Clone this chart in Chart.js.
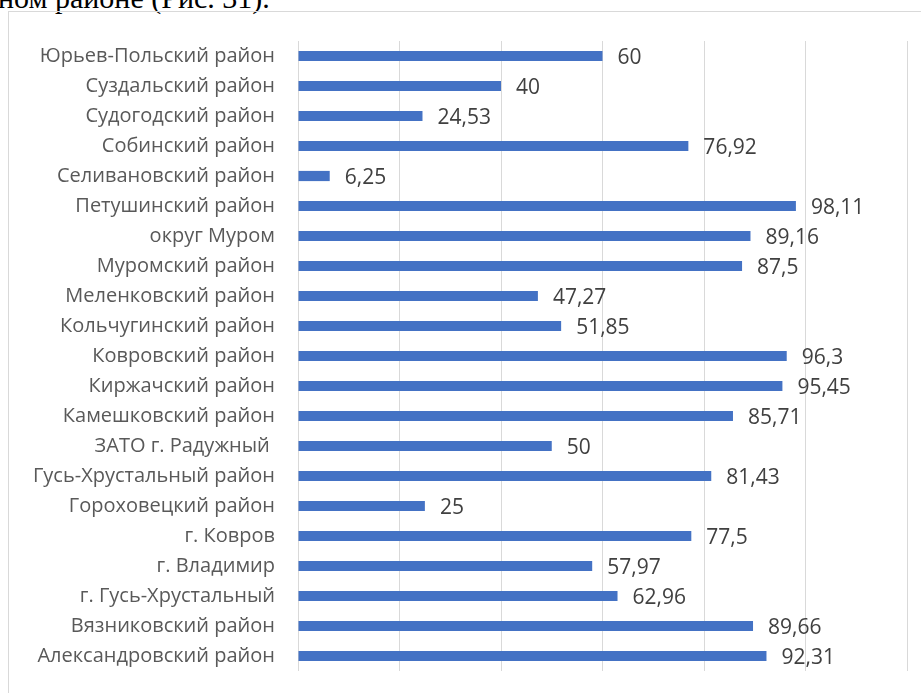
<!DOCTYPE html>
<html>
<head>
<meta charset="utf-8">
<script src="https://cdn.jsdelivr.net/npm/chart.js@4"></script>
<style>
  html, body { margin: 0; padding: 0; background: #fff; overflow: hidden; }
  #page { position: relative; width: 921px; height: 693px; }
  #caption {
    position: absolute; left: -2px; top: -17px;
    font-family: "Liberation Serif", "DejaVu Serif", serif;
    font-size: 30px; line-height: 30px; color: #000; white-space: nowrap;
  }
  #frame {
    position: absolute; left: 8px; top: 11px; width: 940px; height: 720px;
    border: 1px solid #d9d9d9; box-sizing: border-box;
  }
  #chart { position: absolute; left: 0; top: 0; }
</style>
</head>
<body>
<div id="page">
  <div id="caption">ном районе (Рис. 31).</div>
  <div id="frame"></div>
  <canvas id="chart" width="921" height="693"></canvas>
</div>
<script>
// районы, сверху вниз
var districts = [
  'Юрьев-Польский район',
  'Суздальский район',
  'Судогодский район',
  'Собинский район',
  'Селивановский район',
  'Петушинский район',
  'округ Муром',
  'Муромский район',
  'Меленковский район',
  'Кольчугинский район',
  'Ковровский район',
  'Киржачский район',
  'Камешковский район',
  'ЗАТО г. Радужный ',
  'Гусь-Хрустальный район',
  'Гороховецкий район',
  'г. Ковров',
  'г. Владимир',
  'г. Гусь-Хрустальный',
  'Вязниковский район',
  'Александровский район'
];

var values = [60, 40, 24.53, 76.92, 6.25, 98.11, 89.16, 87.5, 47.27, 51.85,
  96.3, 95.45, 85.71, 50, 81.43, 25, 77.5, 57.97, 62.96, 89.66, 92.31];

var xTicks = [0, 20, 40, 60, 80, 100, 120];

var FONT = '"Open Sans", "Noto Sans", sans-serif';

// подписи значений справа от полос
var valueLabels = {
  id: 'valueLabels',
  afterDatasetsDraw: function(chart) {
    var ctx = chart.ctx;
    var meta = chart.getDatasetMeta(0);
    ctx.save();
    ctx.font = '21px ' + FONT;
    ctx.fillStyle = '#404040';
    ctx.textAlign = 'left';
    ctx.textBaseline = 'middle';
    meta.data.forEach(function(bar, i) {
      var txt = String(values[i]).replace('.', ',');
      ctx.fillText(txt, bar.x + 15, bar.y + 2);
    });
    ctx.restore();
  }
};

new Chart(document.getElementById('chart'), {
  type: 'bar',
  data: {
    labels: districts,
    datasets: [{
      data: values,
      backgroundColor: '#4472c4',
      borderWidth: 0,
      categoryPercentage: 1,
      barPercentage: 0.34
    }]
  },
  options: {
    indexAxis: 'y',
    responsive: false,
    animation: false,
    layout: { padding: { left: 0, right: 14, top: 41, bottom: 22 } },
    plugins: { legend: { display: false }, tooltip: { enabled: false } },
    scales: {
      x: {
        min: xTicks[0],
        max: xTicks[xTicks.length - 1],
        afterBuildTicks: function(scale) {
          scale.ticks = xTicks.map(function(v) { return { value: v }; });
        },
        afterFit: function(scale) {
          scale.height = 0;
          scale.paddingLeft = 0;
          scale.paddingRight = 0;
        },
        ticks: { display: false },
        grid: { color: '#d9d9d9', lineWidth: 1, drawTicks: false },
        border: { display: false }
      },
      y: {
        afterFit: function(scale) {
          scale.width = 298;
          scale.paddingTop = 0;
          scale.paddingBottom = 0;
        },
        ticks: {
          color: '#595959',
          font: { family: FONT, size: 20 },
          padding: 23,
          autoSkip: false
        },
        grid: { display: false, drawTicks: false },
        border: { display: false }
      }
    }
  },
  plugins: [valueLabels]
});
</script>
</body>
</html>
